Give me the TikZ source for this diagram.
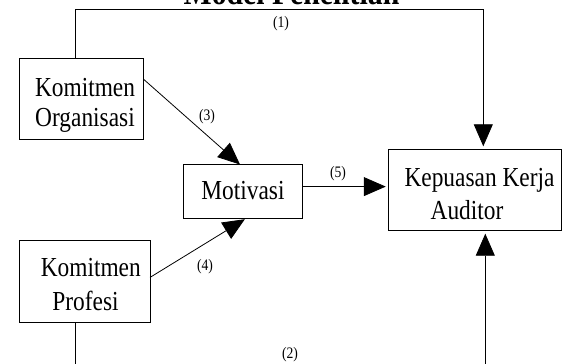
\documentclass[tikz,border=0pt]{standalone}
\usepackage{fontspec}
\setmainfont{Liberation Serif}
\newfontfamily\dgfont[FakeStretch=0.85]{Liberation Serif}
\usetikzlibrary{arrows.meta}
\tikzset{
  box/.style={draw, line width=0.8pt, inner sep=0pt, outer sep=0pt},
  txt/.style={anchor=base, inner sep=0pt, font=\dgfont\fontsize{27.5}{32}\selectfont},
  lbl/.style={inner sep=0pt, font=\dgfont\fontsize{16}{19}\selectfont},
  ttl/.style={anchor=base, inner sep=0pt, font=\dgfont\bfseries\fontsize{35}{42}\selectfont},
  conn/.style={line width=0.8pt},
  arr/.style={line width=0.8pt, -{Triangle[length=22pt,width=19pt]}}
}
\begin{document}
\begin{tikzpicture}[x=1pt,y=-1pt]
\useasboundingbox (0,0) rectangle (563,364);
\clip (0,0) rectangle (563,364);
% title (cropped at top, as in the reference)
\node[ttl] (title) at (291.5,5) {Model Penelitian};
% boxes
\node[box, minimum width=124pt, minimum height=81.3pt] (ko) at (81.3,98.7) {};
\node[box, minimum width=119.4pt, minimum height=54.2pt] (mot) at (243,191.6) {};
\node[box, minimum width=172.3pt, minimum height=81.4pt] (kr) at (474.9,190) {};
\node[box, minimum width=130.7pt, minimum height=82.7pt] (kp) at (84.7,281.4) {};
% box texts
\node[txt] (ko1) at (85,96.7) {Komitmen};
\node[txt] (ko2) at (85,126) {Organisasi};
\node[txt] (mott) at (243,199.3) {Motivasi};
\node[txt] (kr1) at (479.5,186.7) {Kepuasan Kerja};
\node[txt] (kr2) at (467,219.3) {Auditor};
\node[txt] (kp1) at (90.8,276) {Komitmen};
\node[txt] (kp2) at (85.5,310) {Profesi};
% corner points of the long connectors
\coordinate (t1) at (75,9.8);
\coordinate (t2) at (483.3,9.8);
\coordinate (b1) at (75,400);
\coordinate (b2) at (485.3,400);
% connectors
\draw[arr, shorten >=3pt] (ko.north -| t1) -- (t1) -- (t2) -- (kr.north -| t2);
\draw[arr, shorten >=3pt] (kp.south -| b1) -- (b1) -- (b2) -- (kr.south -| b2);
\draw[arr] ([yshift=19.7pt]ko.east) -- ([xshift=-3pt]mot.north);
\draw[arr, shorten >=1pt] ([yshift=4pt]kp.east) -- ([xshift=2.7pt]mot.south);
\draw[arr, shorten >=3pt] ([yshift=5pt]mot.east) -- ([yshift=5pt]mot.east -| kr.west);
% labels
\node[lbl] (l1) at (281,24) {(1)};
\node[lbl] (l3) at (207,117) {(3)};
\node[lbl] (l4) at (205,267) {(4)};
\node[lbl] (l5) at (338,174) {(5)};
\node[lbl] (l2) at (290,355) {(2)};
\end{tikzpicture}
\end{document}
